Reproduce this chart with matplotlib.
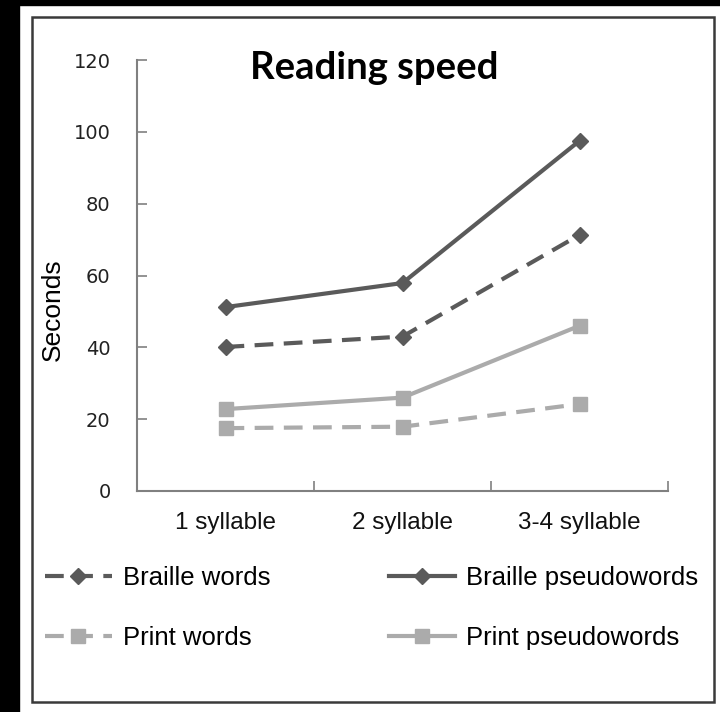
import matplotlib
matplotlib.use('Agg')
import matplotlib.pyplot as plt
from matplotlib.patches import Rectangle

categories = ['1 syllable', '2 syllable', '3-4 syllable']
braille_words = [40.1, 43.0, 71.3]
braille_pseudo = [51.2, 57.9, 97.5]
print_words = [17.5, 17.9, 24.2]
print_pseudo = [22.8, 26.0, 46.0]
yticks = [0, 20, 40, 60, 80, 100, 120]

dark = '#5a5a5a'
light = '#ababab'
sans = ['Liberation Sans', 'DejaVu Sans']

fig = plt.figure(figsize=(7.2, 7.12), dpi=100)
W, H = 720, 712

# black frame of the scanned figure and the inner box
fig.patches.append(Rectangle((0, 0), 19 / W, 1, transform=fig.transFigure,
                             color='black', zorder=0))
fig.patches.append(Rectangle((0, 1 - 5 / H), 1, 5 / H, transform=fig.transFigure,
                             color='black', zorder=0))
fig.patches.append(Rectangle((32 / W, 1 - 702 / H), (714 - 32) / W, (702 - 17) / H,
                             transform=fig.transFigure, fill=False,
                             edgecolor='#3a3a3a', linewidth=1.8, zorder=1))

ax = fig.add_axes([137 / W, 1 - 491 / H, (668 - 137) / W, (491 - 60) / H])
x = range(len(categories))

l1, = ax.plot(x, braille_words, color=dark, lw=3, ls=(0, (4.5, 2.5)),
              marker='D', ms=8, label='Braille words')
l2, = ax.plot(x, braille_pseudo, color=dark, lw=3, marker='D', ms=8,
              label='Braille pseudowords')
l3, = ax.plot(x, print_words, color=light, lw=3, ls=(0, (4.5, 2.5)),
              marker='s', ms=10, label='Print words')
l4, = ax.plot(x, print_pseudo, color=light, lw=3, marker='s', ms=10,
              label='Print pseudowords')

ax.set_xlim(-0.5, 2.5)
ax.set_ylim(0, 120)
ax.set_yticks(yticks)
ax.set_yticklabels([str(v) for v in yticks], fontsize=14, color='#222222')
ax.set_xticks([-0.5, 0.5, 1.5, 2.5])
ax.set_xticklabels([])
ax.set_xticks(list(x), minor=True)
ax.set_xticklabels(categories, minor=True, fontsize=17.5, family=sans,
                   color='#111111')
ax.tick_params(axis='x', which='minor', length=0, pad=15)
ax.tick_params(axis='both', which='major', direction='in', length=7,
               color='#808080', width=1.2)
ax.tick_params(axis='y', pad=19)
for s in ['top', 'right']:
    ax.spines[s].set_visible(False)
for s in ['left', 'bottom']:
    ax.spines[s].set_color('#808080')
    ax.spines[s].set_linewidth(1.5)

ax.set_ylabel('Seconds', fontsize=19, family=sans)
ax.yaxis.set_label_coords(-0.135, 0.42)

fig.text(374 / W, 1 - 68 / H, 'Reading speed', fontsize=27.5, fontweight='bold',
         family=['Lato', 'DejaVu Sans'], ha='center', va='center')

fig.legend(handles=[l1, l3, l2, l4], loc='center left',
           bbox_to_anchor=(45 / W, 1 - 608 / H), ncol=2, frameon=False,
           borderpad=0, borderaxespad=0,
           prop={'family': sans, 'size': 18.5}, handlelength=2.6,
           handletextpad=0.43, columnspacing=4.6, labelspacing=1.38)

fig.savefig('out.png', dpi=100, facecolor='white')
